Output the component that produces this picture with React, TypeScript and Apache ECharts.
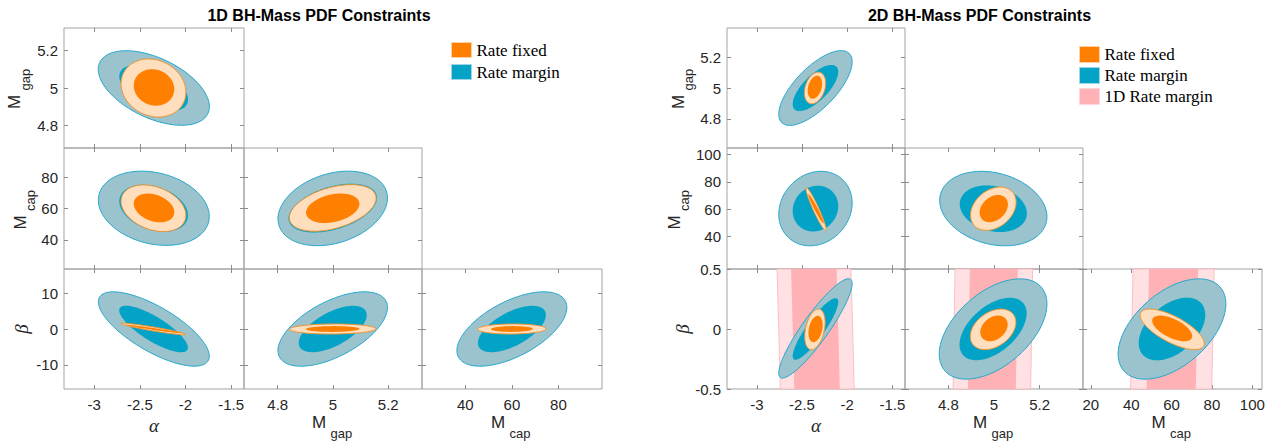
import React, { useEffect, useRef } from "react";
import * as echarts from "echarts";

// ---------- data ----------
const FIG_TITLES = ["1D BH-Mass PDF Constraints", "2D BH-Mass PDF Constraints"];
const X_PARAMS = ["alpha", "Mgap", "Mcap"];
const Y_PARAMS = ["Mgap", "Mcap", "beta"];
// panels in order: [row, col]
const PANELS = [[0, 0], [1, 0], [1, 1], [2, 0], [2, 1], [2, 2]];

// axis limits
const LIM_1D: Record<string, number[]> = { alpha: [-3.33, -1.36], Mgap: [4.678, 5.322], Mcap: [21.4, 98.7], beta: [-16.67, 16.67] };
const LIM_2D: Record<string, number[]> = { alpha: [-3.33, -1.36], Mgap: [4.61, 5.39], Mcap: [16.1, 104.8], beta: [-0.5, 0.5] };

// tick values
const TICKS_1D: Record<string, number[]> = { alpha: [-3, -2.5, -2, -1.5], Mgap: [4.8, 5, 5.2], Mcap: [40, 60, 80], beta: [-10, 0, 10] };
const TICKS_2D_X: Record<string, number[]> = { alpha: [-3, -2.5, -2, -1.5], Mgap: [4.8, 5, 5.2], Mcap: [20, 40, 60, 80, 100] };
const TICKS_2D_Y: Record<string, number[]> = { Mgap: [4.8, 5, 5.2], Mcap: [40, 60, 80, 100], beta: [-0.5, 0, 0.5] };

// ellipses: [cx, cy, halfWidthX, halfWidthY, correlation], one per panel
const OUTER_MARGIN_1D = [
  [-2.347, 5.0, 0.608, 0.2, -0.5],
  [-2.347, 60.2, 0.607, 23.7, -0.22],
  [4.999, 60.1, 0.198, 23.8, 0.28],
  [-2.347, 0.0, 0.607, 10.33, -0.73],
  [4.999, 0.0, 0.198, 10.33, 0.58],
  [60.0, 0.0, 23.6, 10.33, 0.58],
];
const INNER_MARGIN_1D = [
  [-2.349, 5.0, 0.376, 0.124, -0.5],
  [-2.349, 60.2, 0.376, 15.0, -0.3],
  [4.999, 60.3, 0.16, 15.6, 0.42],
  [-2.35, 0.0, 0.376, 6.47, -0.8],
  [4.999, 0.0, 0.123, 6.45, 0.6],
  [60.0, 0.0, 14.6, 6.45, 0.6],
];
const OUTER_FIXED_1D = [
  [-2.351, 5.0, 0.355, 0.156, -0.15],
  [-2.351, 60.2, 0.355, 14.9, -0.3],
  [4.999, 60.4, 0.157, 14.9, 0.42],
  [-2.351, 0.0, 0.355, 1.61, -0.94],
  [4.999, 0.0, 0.156, 1.4, 0.05],
  [60.0, 0.0, 14.7, 1.4, 0.05],
];
const INNER_FIXED_1D = [
  [-2.345, 5.003, 0.222, 0.098, -0.1],
  [-2.345, 60.4, 0.222, 9.2, -0.3],
  [4.999, 60.2, 0.0965, 9.4, 0.3],
  [-2.35, 0.0, 0.315, 1.2, -0.975],
  [4.999, 0.0, 0.097, 0.8, 0.05],
  [60.0, 0.0, 9.0, 0.8, 0.05],
];

const OUTER_MARGIN_2D = [
  [-2.351, 5.0, 0.406, 0.243, 0.7],
  [-2.351, 60.4, 0.406, 27.3, 0.15],
  [4.997, 60.4, 0.235, 27.3, -0.22],
  [-2.351, 0.005, 0.406, 0.414, 0.9],
  [4.996, 0.0, 0.236, 0.418, 0.5],
  [60.2, 0.0, 26.7, 0.418, 0.5],
];
const INNER_MARGIN_2D = [
  [-2.351, 5.0, 0.252, 0.15, 0.7],
  [-2.351, 60.4, 0.252, 16.8, 0.1],
  [4.997, 60.3, 0.147, 17.1, -0.2],
  [-2.351, 0.0, 0.252, 0.257, 0.88],
  [4.996, 0.0, 0.147, 0.26, 0.5],
  [60.2, 0.0, 16.5, 0.261, 0.45],
];
const OUTER_FIXED_2D = [
  [-2.356, 5.0, 0.118, 0.103, 0.3],
  [-2.345, 60.0, 0.112, 15.75, -0.95],
  [4.997, 60.3, 0.1, 15.9, 0.3],
  [-2.357, -0.003, 0.113, 0.169, 0.35],
  [4.996, -0.003, 0.1, 0.169, 0.35],
  [60.3, -0.003, 15.9, 0.169, -0.7],
];
const INNER_FIXED_2D = [
  [-2.357, 5.005, 0.08, 0.075, 0.3],
  [-2.345, 60.2, 0.086, 10.8, -0.97],
  [4.999, 60.4, 0.062, 10.0, 0.3],
  [-2.35, 0.0, 0.079, 0.11, 0.3],
  [5.0, 0.005, 0.06, 0.107, 0.3],
  [60.3, 0.005, 9.9, 0.107, -0.6],
];

// 1D rate-margin bands (bottom row of 2D figure): [centre at beta=0, half width, shift per unit beta]
const BAND_OUTER_2D = [
  [-2.349, 0.409, -0.036],
  [4.995, 0.17, 0.0086],
  [60.4, 20.1, 1.23],
];
const BAND_INNER_2D = [
  [-2.351, 0.252, -0.036],
  [4.995, 0.105, 0.0086],
  [60.4, 12.2, 1.23],
];

// ---------- layout / styles ----------
const COLS = [
  [64, 244, 422, 602],
  [727, 905, 1083, 1262],
];
const ROWS = [28, 148, 269, 389];
const TITLE_X = [319, 979.5];
const YTITLE_DX = [
  [-49.5, -44, -43],
  [-49, -53, -45],
];

const C_OUTER = "#9AC3CD";
const C_OUTER_EDGE = "#23A8CC";
const C_INNER = "#03A3C7";
const C_PEACH = "#FFDEBD";
const C_PEACH_EDGE = "#F0922E";
const C_ORANGE = "#FF8000";
const C_PINK_L = "#FFE1E4";
const C_PINK_L_EDGE = "#F8B4BA";
const C_PINK_D = "#FFB2B6";
const SANS = "'Liberation Sans', Arial, Helvetica, sans-serif";
const SERIF = "'Liberation Serif', 'Times New Roman', serif";

function ellipseRender(fill: string, stroke: string | null, lw: number) {
  return (params: any, api: any) => {
    const cx = api.value(0), cy = api.value(1), sx = api.value(2), sy = api.value(3), r = api.value(4);
    const q = Math.sqrt(1 - r * r);
    const pts: number[][] = [];
    const n = 120;
    for (let k = 0; k < n; k++) {
      const t = (2 * Math.PI * k) / n;
      pts.push(api.coord([cx + sx * Math.cos(t), cy + sy * (r * Math.cos(t) + q * Math.sin(t))]));
    }
    return {
      type: "polygon",
      shape: { points: pts },
      style: { fill, stroke: stroke || "none", lineWidth: stroke ? lw : 0 },
    };
  };
}

function bandRender(fill: string, stroke: string | null, yLim: number[]) {
  return (params: any, api: any) => {
    const c = api.value(0), hw = api.value(2), s = api.value(3);
    const [y0, y1] = yLim;
    const pts = [
      [c + s * y1 - hw, y1],
      [c + s * y1 + hw, y1],
      [c + s * y0 + hw, y0],
      [c + s * y0 - hw, y0],
    ].map((p) => api.coord(p));
    return {
      type: "polygon",
      shape: { points: pts },
      style: { fill, stroke: stroke || "none", lineWidth: stroke ? 0.8 : 0 },
    };
  };
}

function subLabel(main: string, sub: string) {
  return [
    { type: "text", x: -21, y: 0, style: { text: main, font: `17px ${SANS}`, fill: "#262626", align: "left", verticalAlign: "middle" } },
    { type: "text", x: -2.5, y: 10.5, style: { text: sub, font: `13px ${SANS}`, fill: "#262626", align: "left", verticalAlign: "middle" } },
  ];
}

function buildOption() {
  const grid: any[] = [];
  const xAxis: any[] = [];
  const yAxis: any[] = [];
  const series: any[] = [];
  const graphic: any[] = [];

  const levels2 = [
    [OUTER_MARGIN_1D, INNER_MARGIN_1D, OUTER_FIXED_1D, INNER_FIXED_1D],
    [OUTER_MARGIN_2D, INNER_MARGIN_2D, OUTER_FIXED_2D, INNER_FIXED_2D],
  ];

  for (let f = 0; f < 2; f++) {
    const lim = f === 0 ? LIM_1D : LIM_2D;
    const cols = COLS[f];
    PANELS.forEach(([row, col], p) => {
      const gi = f * 6 + p;
      const xp = X_PARAMS[col];
      const yp = Y_PARAMS[row];
      const xt = f === 0 ? TICKS_1D[xp] : TICKS_2D_X[xp];
      const yt = f === 0 ? TICKS_1D[yp] : TICKS_2D_Y[yp];
      grid.push({
        left: cols[col],
        top: ROWS[row],
        width: cols[col + 1] - cols[col],
        height: ROWS[row + 1] - ROWS[row],
        show: true,
        borderColor: "#A3A3A3",
        borderWidth: 1,
        backgroundColor: "rgba(0,0,0,0)",
      });
      const tickStyle = { color: "#8C8C8C", width: 1 };
      const mkX = (pos: string, labels: boolean) => ({
        type: "value",
        gridIndex: gi,
        position: pos,
        min: lim[xp][0],
        max: lim[xp][1],
        axisLine: { show: false, onZero: false },
        splitLine: { show: false },
        axisTick: { show: true, inside: true, length: 4, customValues: xt, lineStyle: tickStyle },
        axisLabel: { show: labels, customValues: xt, fontSize: 15, color: "#262626", margin: 8, fontFamily: SANS },
      });
      const mkY = (pos: string, labels: boolean) => ({
        type: "value",
        gridIndex: gi,
        position: pos,
        min: lim[yp][0],
        max: lim[yp][1],
        axisLine: { show: false, onZero: false },
        splitLine: { show: false },
        axisTick: { show: true, inside: true, length: 4, customValues: yt, lineStyle: tickStyle },
        axisLabel: { show: labels, customValues: yt, fontSize: 15, color: "#262626", margin: 6, fontFamily: SANS },
      });
      xAxis.push(mkX("bottom", row === 2));
      xAxis.push(mkX("top", false));
      yAxis.push(mkY("left", col === 0));
      yAxis.push(mkY("right", false));
      const axIdx = { xAxisIndex: gi * 2, yAxisIndex: gi * 2 };

      if (f === 1 && row === 2) {
        series.push({
          type: "custom", name: "1D Rate margin", ...axIdx, silent: true,
          encode: { x: 0, y: 1 },
          data: [[BAND_OUTER_2D[col][0], 0, BAND_OUTER_2D[col][1], BAND_OUTER_2D[col][2]]],
          renderItem: bandRender(C_PINK_L, C_PINK_L_EDGE, lim.beta),
        });
        series.push({
          type: "custom", name: "1D Rate margin", ...axIdx, silent: true,
          encode: { x: 0, y: 1 },
          data: [[BAND_INNER_2D[col][0], 0, BAND_INNER_2D[col][1], BAND_INNER_2D[col][2]]],
          renderItem: bandRender(C_PINK_D, null, lim.beta),
        });
      }
      const L = levels2[f];
      series.push({ type: "custom", name: "Rate margin", ...axIdx, silent: true, encode: { x: 0, y: 1 }, data: [L[0][p]], renderItem: ellipseRender(C_OUTER, C_OUTER_EDGE, 1) });
      series.push({ type: "custom", name: "Rate margin", ...axIdx, silent: true, encode: { x: 0, y: 1 }, data: [L[1][p]], renderItem: ellipseRender(C_INNER, null, 0) });
      series.push({ type: "custom", name: "Rate fixed", ...axIdx, silent: true, encode: { x: 0, y: 1 }, data: [L[2][p]], renderItem: ellipseRender(C_PEACH, C_PEACH_EDGE, 1) });
      series.push({ type: "custom", name: "Rate fixed", ...axIdx, silent: true, encode: { x: 0, y: 1 }, data: [L[3][p]], renderItem: ellipseRender(C_ORANGE, null, 0) });
    });

    // figure title
    graphic.push({
      type: "text", x: TITLE_X[f], y: 15.5,
      style: { text: FIG_TITLES[f], font: `bold 16px ${SANS}`, fill: "#000", align: "center", verticalAlign: "middle" },
    });
    // x axis titles
    for (let c = 0; c < 3; c++) {
      const cx = (cols[c] + cols[c + 1]) / 2;
      if (c === 0) {
        graphic.push({ type: "text", x: cx, y: 425, style: { text: "α", font: `italic 19px ${SERIF}`, fill: "#262626", align: "center", verticalAlign: "middle" } });
      } else {
        graphic.push({ type: "group", x: cx, y: 422.5, children: subLabel("M", c === 1 ? "gap" : "cap") });
      }
    }
    // y axis titles
    for (let r = 0; r < 3; r++) {
      const cy = (ROWS[r] + ROWS[r + 1]) / 2;
      const ax = cols[0] + YTITLE_DX[f][r];
      if (r === 2) {
        graphic.push({ type: "text", x: ax, y: cy, rotation: Math.PI / 2, style: { text: "β", font: `italic 19px ${SERIF}`, fill: "#262626", align: "center", verticalAlign: "middle" } });
      } else {
        graphic.push({ type: "group", x: ax, y: cy, rotation: Math.PI / 2, children: subLabel("M", r === 0 ? "gap" : "cap") });
      }
    }
  }

  const legendText = { fontFamily: SERIF, fontSize: 17, color: "#000" };
  const legend = [
    {
      left: 451, top: 41.5, orient: "vertical", padding: 0, itemWidth: 20, itemHeight: 15, itemGap: 5,
      icon: "rect", selectedMode: false, textStyle: legendText,
      data: [
        { name: "Rate fixed", itemStyle: { color: C_ORANGE, borderColor: "#FFD0A3", borderWidth: 1 } },
        { name: "Rate margin", itemStyle: { color: C_INNER, borderColor: "#9ED6E6", borderWidth: 1 } },
      ],
    },
    {
      left: 1079, top: 46, orient: "vertical", padding: 0, itemWidth: 20, itemHeight: 16, itemGap: 4,
      icon: "rect", selectedMode: false, textStyle: legendText,
      data: [
        { name: "Rate fixed", itemStyle: { color: C_ORANGE, borderColor: "#FFD0A3", borderWidth: 1 } },
        { name: "Rate margin", itemStyle: { color: C_INNER, borderColor: "#9ED6E6", borderWidth: 1 } },
        { name: "1D Rate margin", itemStyle: { color: C_PINK_D, borderColor: "#FFD6D9", borderWidth: 1 } },
      ],
    },
  ];

  return {
    animation: false,
    backgroundColor: "#fff",
    grid,
    xAxis,
    yAxis,
    series,
    legend,
    graphic,
  };
}

export default function App() {
  const ref = useRef<HTMLDivElement>(null);
  useEffect(() => {
    if (!ref.current) return;
    const chart = echarts.init(ref.current, null, { renderer: "svg" });
    chart.setOption(buildOption() as any);
    return () => chart.dispose();
  }, []);
  return <div ref={ref} style={{ position: "fixed", left: 0, top: 0, width: 1274, height: 443, background: "#fff" }} />;
}
